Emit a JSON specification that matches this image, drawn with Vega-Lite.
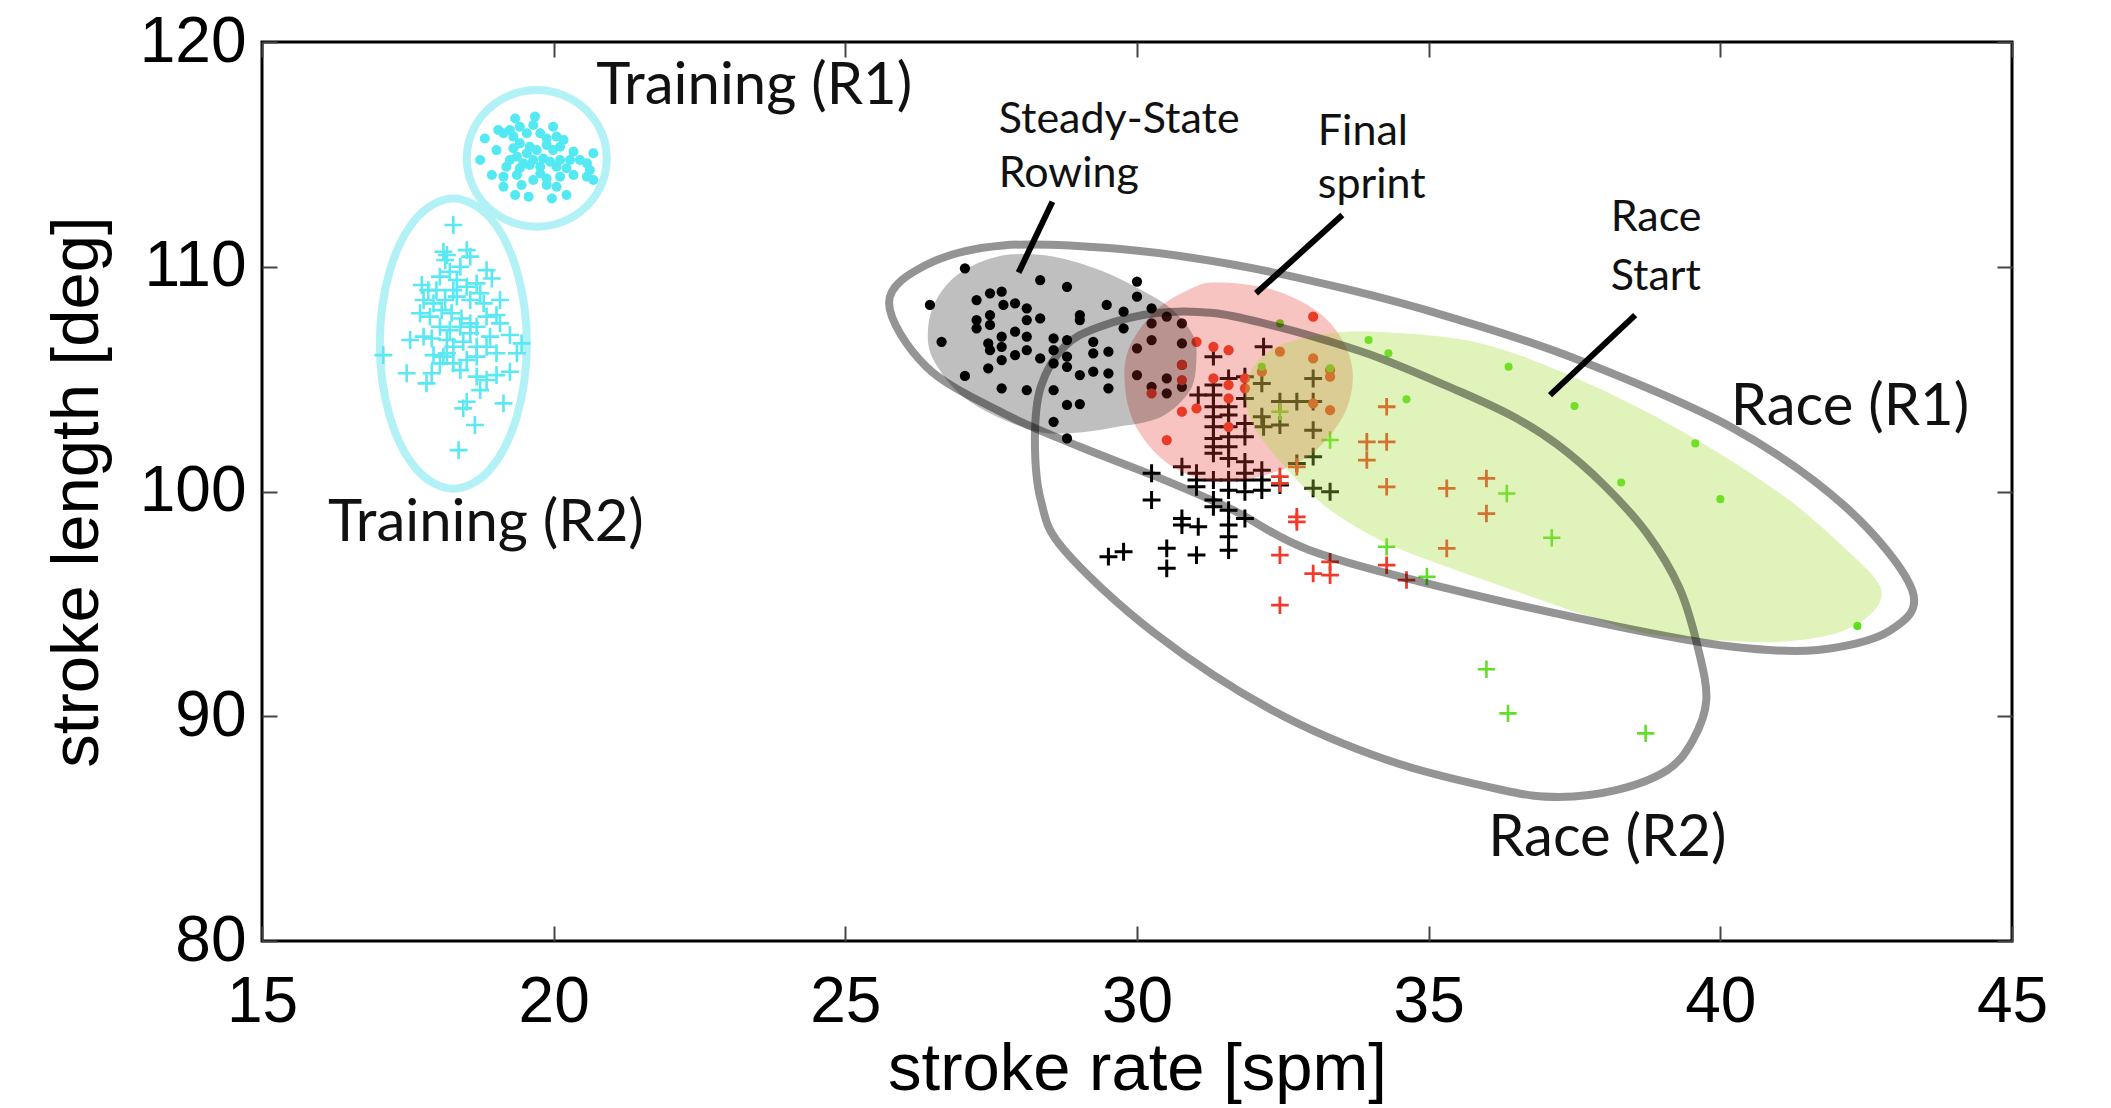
{
"$schema": "https://vega.github.io/schema/vega-lite/v6.json",
"width": 1750, "height": 899,
"autosize": "none",
"padding": {"left": 262, "top": 42, "right": 99, "bottom": 167},
"background": "white",
"config": {
 "view": {"stroke": "#000", "strokeWidth": 3},
 "axis": {"grid": false, "domain": false, "tickSize": -15, "tickWidth": 2, "tickColor": "#444",
  "labelFont": "Liberation Sans", "labelFontSize": 64, "labelColor": "#000",
  "titleFont": "Liberation Sans", "titleFontSize": 67, "titleFontWeight": "normal", "titleColor": "#000",
  "labelOverlap": false, "labelFlush": false, "labelBound": false}
},
"datasets": {
 "cyanDots": [{"x":19.34,"y":116.60},{"x":19.68,"y":116.68},{"x":19.65,"y":116.31},{"x":19.42,"y":116.23},{"x":19.25,"y":116.08},{"x":19.05,"y":116.08},{"x":19.14,"y":115.94},{"x":19.31,"y":115.79},{"x":19.54,"y":115.94},{"x":19.99,"y":116.23},{"x":19.77,"y":115.94},{"x":19.88,"y":115.71},{"x":20.05,"y":115.79},{"x":20.17,"y":115.64},{"x":18.82,"y":115.71},{"x":19.02,"y":115.19},{"x":19.42,"y":115.49},{"x":19.59,"y":115.34},{"x":19.71,"y":115.19},{"x":19.88,"y":115.42},{"x":19.99,"y":115.19},{"x":20.11,"y":115.34},{"x":20.34,"y":115.12},{"x":20.68,"y":115.05},{"x":18.74,"y":114.75},{"x":19.25,"y":114.75},{"x":19.37,"y":114.90},{"x":19.48,"y":114.60},{"x":19.65,"y":114.75},{"x":19.82,"y":114.82},{"x":19.94,"y":114.67},{"x":20.11,"y":114.75},{"x":20.28,"y":114.75},{"x":20.45,"y":114.75},{"x":20.57,"y":114.60},{"x":19.19,"y":114.45},{"x":19.42,"y":114.38},{"x":19.59,"y":114.53},{"x":19.77,"y":114.45},{"x":20.05,"y":114.45},{"x":20.22,"y":114.38},{"x":20.62,"y":114.30},{"x":18.94,"y":114.08},{"x":19.14,"y":114.01},{"x":19.37,"y":114.08},{"x":19.65,"y":113.86},{"x":19.88,"y":113.93},{"x":20.11,"y":114.01},{"x":20.34,"y":114.08},{"x":20.57,"y":114.01},{"x":20.68,"y":113.86},{"x":19.45,"y":113.64},{"x":19.14,"y":113.56},{"x":19.88,"y":113.64},{"x":20.05,"y":113.56},{"x":19.34,"y":113.19},{"x":19.57,"y":113.12},{"x":19.97,"y":113.04},{"x":20.22,"y":113.19},{"x":19.77,"y":114.15},{"x":19.54,"y":115.05},{"x":19.31,"y":115.27}],
 "cyanPlus": [{"x":18.28,"y":111.86},{"x":18.11,"y":110.67},{"x":18.14,"y":110.30},{"x":18.51,"y":110.74},{"x":18.57,"y":110.45},{"x":18.17,"y":110.52},{"x":18.85,"y":109.85},{"x":18.94,"y":109.48},{"x":17.74,"y":109.19},{"x":17.85,"y":108.96},{"x":17.77,"y":108.52},{"x":18.05,"y":109.56},{"x":18.22,"y":109.78},{"x":18.34,"y":109.41},{"x":18.51,"y":109.11},{"x":18.68,"y":109.26},{"x":18.74,"y":108.82},{"x":18.28,"y":108.96},{"x":18.14,"y":108.52},{"x":18.34,"y":108.67},{"x":18.57,"y":108.52},{"x":17.94,"y":108.37},{"x":17.71,"y":107.93},{"x":17.88,"y":107.78},{"x":18.08,"y":108.07},{"x":18.25,"y":107.93},{"x":18.42,"y":107.70},{"x":18.57,"y":107.48},{"x":18.68,"y":107.33},{"x":18.85,"y":107.78},{"x":19.02,"y":107.85},{"x":19.08,"y":107.48},{"x":18.05,"y":107.33},{"x":18.22,"y":107.18},{"x":18.40,"y":107.33},{"x":18.57,"y":107.04},{"x":17.77,"y":106.89},{"x":17.91,"y":106.81},{"x":18.17,"y":106.74},{"x":18.28,"y":106.44},{"x":18.45,"y":106.66},{"x":18.68,"y":106.44},{"x":18.91,"y":106.89},{"x":19.25,"y":106.96},{"x":19.45,"y":106.59},{"x":17.08,"y":106.07},{"x":17.94,"y":106.07},{"x":18.11,"y":106.00},{"x":18.28,"y":105.70},{"x":18.51,"y":105.85},{"x":18.68,"y":106.00},{"x":19.02,"y":106.15},{"x":19.37,"y":106.15},{"x":18.05,"y":105.70},{"x":18.40,"y":105.40},{"x":18.68,"y":105.11},{"x":18.85,"y":104.96},{"x":19.02,"y":105.18},{"x":19.25,"y":105.33},{"x":17.48,"y":105.26},{"x":17.91,"y":105.26},{"x":17.82,"y":104.81},{"x":18.74,"y":104.51},{"x":18.51,"y":103.99},{"x":18.45,"y":103.70},{"x":19.14,"y":103.92},{"x":18.65,"y":102.96},{"x":18.37,"y":101.84},{"x":17.54,"y":106.74},{"x":18.80,"y":108.37},{"x":19.08,"y":108.52},{"x":18.40,"y":110.00},{"x":17.99,"y":108.96},{"x":18.85,"y":106.44},{"x":18.17,"y":106.15}],
 "blackDots": [{"x":27.05,"y":109.93},{"x":28.34,"y":109.41},{"x":28.80,"y":109.11},{"x":30.00,"y":109.34},{"x":30.00,"y":108.67},{"x":26.45,"y":108.30},{"x":27.25,"y":108.52},{"x":27.48,"y":108.82},{"x":27.68,"y":108.89},{"x":27.71,"y":108.30},{"x":27.91,"y":108.37},{"x":28.11,"y":108.15},{"x":28.11,"y":107.63},{"x":28.34,"y":107.70},{"x":29.02,"y":107.85},{"x":29.02,"y":107.63},{"x":29.48,"y":108.30},{"x":29.77,"y":108.00},{"x":29.77,"y":107.26},{"x":30.25,"y":108.15},{"x":30.51,"y":107.78},{"x":30.77,"y":107.48},{"x":27.25,"y":107.63},{"x":27.25,"y":107.26},{"x":27.48,"y":107.85},{"x":27.48,"y":107.41},{"x":26.65,"y":106.66},{"x":27.45,"y":106.59},{"x":27.48,"y":106.29},{"x":27.68,"y":106.89},{"x":27.68,"y":106.44},{"x":27.68,"y":105.85},{"x":27.91,"y":107.11},{"x":27.91,"y":106.07},{"x":28.11,"y":106.89},{"x":28.11,"y":106.29},{"x":28.34,"y":105.92},{"x":28.57,"y":106.81},{"x":28.57,"y":106.29},{"x":28.57,"y":105.70},{"x":28.80,"y":106.74},{"x":28.80,"y":106.00},{"x":28.80,"y":105.55},{"x":29.02,"y":105.18},{"x":29.25,"y":106.66},{"x":29.25,"y":106.15},{"x":29.25,"y":105.33},{"x":29.51,"y":106.22},{"x":29.51,"y":105.26},{"x":29.51,"y":104.59},{"x":27.05,"y":105.14},{"x":27.45,"y":105.48},{"x":27.68,"y":104.59},{"x":28.11,"y":104.51},{"x":28.57,"y":104.51},{"x":28.80,"y":103.85},{"x":29.02,"y":103.89},{"x":28.57,"y":103.10},{"x":28.80,"y":102.36},{"x":30.00,"y":106.37},{"x":30.25,"y":106.74},{"x":30.25,"y":107.48},{"x":30.51,"y":105.03},{"x":30.51,"y":104.37},{"x":30.25,"y":104.66},{"x":30.77,"y":106.59},{"x":30.77,"y":105.63},{"x":30.77,"y":104.66},{"x":30.00,"y":105.18}],
 "redDots": [{"x":33.02,"y":107.78},{"x":31.02,"y":106.66},{"x":31.31,"y":106.44},{"x":31.57,"y":106.29},{"x":30.77,"y":105.63},{"x":30.77,"y":104.96},{"x":30.25,"y":104.37},{"x":31.31,"y":105.03},{"x":31.57,"y":104.74},{"x":31.57,"y":104.14},{"x":31.85,"y":105.03},{"x":31.85,"y":104.59},{"x":32.45,"y":106.22},{"x":33.02,"y":105.92},{"x":33.31,"y":105.40},{"x":33.31,"y":105.11},{"x":32.14,"y":105.33},{"x":30.77,"y":103.55},{"x":31.02,"y":103.70},{"x":31.57,"y":102.88},{"x":30.51,"y":102.29},{"x":33.02,"y":103.92},{"x":33.31,"y":103.62}],
 "greenDots": [{"x":32.45,"y":107.48},{"x":32.14,"y":105.55},{"x":33.31,"y":105.48},{"x":33.97,"y":106.74},{"x":34.31,"y":106.15},{"x":36.37,"y":105.55},{"x":34.62,"y":104.10},{"x":37.50,"y":103.80},{"x":39.57,"y":102.14},{"x":38.30,"y":100.40},{"x":40.00,"y":99.66},{"x":42.35,"y":94.02}],
 "blackPlus": [{"x":32.17,"y":106.44},{"x":31.31,"y":106.00},{"x":31.57,"y":105.03},{"x":31.31,"y":104.74},{"x":31.05,"y":104.29},{"x":31.31,"y":104.29},{"x":31.31,"y":103.77},{"x":31.57,"y":103.77},{"x":31.31,"y":103.33},{"x":31.57,"y":103.40},{"x":31.31,"y":102.88},{"x":31.57,"y":102.88},{"x":31.31,"y":102.36},{"x":31.57,"y":102.44},{"x":31.31,"y":101.99},{"x":31.57,"y":101.99},{"x":31.31,"y":101.70},{"x":31.57,"y":101.47},{"x":31.85,"y":105.11},{"x":31.85,"y":104.14},{"x":31.85,"y":103.03},{"x":31.85,"y":102.44},{"x":31.85,"y":101.32},{"x":31.85,"y":100.81},{"x":32.14,"y":104.81},{"x":32.14,"y":103.33},{"x":32.45,"y":104.00},{"x":32.74,"y":104.00},{"x":33.02,"y":104.00},{"x":33.02,"y":105.03},{"x":33.02,"y":102.73},{"x":33.02,"y":101.55},{"x":32.45,"y":102.96},{"x":32.17,"y":102.88},{"x":30.77,"y":101.10},{"x":31.02,"y":100.81},{"x":31.02,"y":100.51},{"x":31.02,"y":100.21},{"x":31.31,"y":100.51},{"x":31.31,"y":99.62},{"x":31.31,"y":99.32},{"x":31.57,"y":100.51},{"x":31.57,"y":100.06},{"x":31.57,"y":99.17},{"x":31.57,"y":98.51},{"x":31.57,"y":97.99},{"x":31.57,"y":97.39},{"x":31.85,"y":100.51},{"x":31.85,"y":99.99},{"x":31.85,"y":98.80},{"x":32.14,"y":100.51},{"x":32.14,"y":100.06},{"x":32.45,"y":100.29},{"x":30.25,"y":100.81},{"x":30.25,"y":99.62},{"x":30.77,"y":98.80},{"x":30.77,"y":98.51},{"x":31.05,"y":98.43},{"x":30.51,"y":97.47},{"x":30.51,"y":96.58},{"x":31.02,"y":97.17},{"x":29.77,"y":97.32},{"x":29.51,"y":97.10},{"x":33.02,"y":100.14},{"x":33.31,"y":99.99},{"x":32.14,"y":100.95},{"x":32.74,"y":101.25}],
 "redPlus": [{"x":32.45,"y":100.66},{"x":32.45,"y":100.36},{"x":32.74,"y":98.87},{"x":32.74,"y":98.65},{"x":32.45,"y":97.17},{"x":33.02,"y":96.35},{"x":33.31,"y":96.87},{"x":33.31,"y":96.28},{"x":32.45,"y":94.94},{"x":34.28,"y":103.77},{"x":33.94,"y":102.21},{"x":34.28,"y":102.21},{"x":33.94,"y":101.40},{"x":34.28,"y":100.21},{"x":34.28,"y":96.72},{"x":32.74,"y":101.10},{"x":35.31,"y":100.14},{"x":35.99,"y":100.58},{"x":35.99,"y":99.02},{"x":35.31,"y":97.47},{"x":34.62,"y":96.06}],
 "greenPlus": [{"x":33.31,"y":102.29},{"x":32.45,"y":103.55},{"x":34.28,"y":97.54},{"x":36.34,"y":99.91},{"x":37.11,"y":97.94},{"x":34.97,"y":96.21},{"x":35.99,"y":92.09},{"x":36.36,"y":90.13},{"x":38.72,"y":89.24}],
 "cyanRings": [
  {"e":"T1","i":0,"x":19.71,"y":117.86},{"e":"T1","i":1,"x":20.31,"y":117.45},{"e":"T1","i":2,"x":20.75,"y":116.34},{"e":"T1","i":3,"x":20.91,"y":114.82},{"e":"T1","i":4,"x":20.75,"y":113.30},{"e":"T1","i":5,"x":20.31,"y":112.19},{"e":"T1","i":6,"x":19.71,"y":111.78},{"e":"T1","i":7,"x":19.11,"y":112.19},{"e":"T1","i":8,"x":18.67,"y":113.30},{"e":"T1","i":9,"x":18.51,"y":114.82},{"e":"T1","i":10,"x":18.67,"y":116.34},{"e":"T1","i":11,"x":19.11,"y":117.45},
  {"e":"T2","i":0,"x":18.28,"y":113.04},{"e":"T2","i":1,"x":18.91,"y":112.17},{"e":"T2","i":2,"x":19.37,"y":109.81},{"e":"T2","i":3,"x":19.54,"y":106.58},{"e":"T2","i":4,"x":19.37,"y":103.35},{"e":"T2","i":5,"x":18.91,"y":100.99},{"e":"T2","i":6,"x":18.28,"y":100.12},{"e":"T2","i":7,"x":17.65,"y":100.99},{"e":"T2","i":8,"x":17.19,"y":103.35},{"e":"T2","i":9,"x":17.02,"y":106.58},{"e":"T2","i":10,"x":17.19,"y":109.81},{"e":"T2","i":11,"x":17.65,"y":112.17}],
 "raceRings": [
  {"e":"R1","i":0,"x":25.75,"y":108.4},{"e":"R1","i":1,"x":26.4,"y":110.1},{"e":"R1","i":2,"x":27.7,"y":110.95},{"e":"R1","i":3,"x":29.67,"y":110.8},{"e":"R1","i":4,"x":31.64,"y":110.1},{"e":"R1","i":5,"x":33.6,"y":109.0},{"e":"R1","i":6,"x":35.36,"y":107.76},{"e":"R1","i":7,"x":37.44,"y":105.98},{"e":"R1","i":8,"x":40.18,"y":102.87},{"e":"R1","i":9,"x":42.15,"y":99.31},{"e":"R1","i":10,"x":43.29,"y":95.6},{"e":"R1","i":11,"x":42.9,"y":93.8},{"e":"R1","i":12,"x":41.67,"y":92.95},{"e":"R1","i":13,"x":40.18,"y":93.1},{"e":"R1","i":14,"x":38.23,"y":94.0},{"e":"R1","i":15,"x":35.3,"y":95.7},{"e":"R1","i":16,"x":32.95,"y":97.4},{"e":"R1","i":17,"x":31.64,"y":99.18},{"e":"R1","i":18,"x":30.33,"y":100.66},{"e":"R1","i":19,"x":29.02,"y":101.99},{"e":"R1","i":20,"x":27.70,"y":103.49},{"e":"R1","i":21,"x":26.39,"y":105.55},
  {"e":"R2","i":0,"x":28.25,"y":102.3},{"e":"R2","i":1,"x":28.35,"y":104.65},{"e":"R2","i":2,"x":28.75,"y":106.43},{"e":"R2","i":3,"x":29.35,"y":107.32},{"e":"R2","i":4,"x":30.33,"y":107.94},{"e":"R2","i":5,"x":31.31,"y":107.94},{"e":"R2","i":6,"x":32.30,"y":107.4},{"e":"R2","i":7,"x":33.27,"y":106.7},{"e":"R2","i":8,"x":34.2,"y":105.9},{"e":"R2","i":9,"x":35.4,"y":104.6},{"e":"R2","i":10,"x":36.4,"y":103.4},{"e":"R2","i":11,"x":37.2,"y":102.1},{"e":"R2","i":12,"x":38.0,"y":100.3},{"e":"R2","i":13,"x":38.74,"y":98.15},{"e":"R2","i":14,"x":39.3,"y":95.7},{"e":"R2","i":15,"x":39.62,"y":93.0},{"e":"R2","i":16,"x":39.76,"y":90.72},{"e":"R2","i":17,"x":39.53,"y":88.94},{"e":"R2","i":18,"x":39.09,"y":87.6},{"e":"R2","i":19,"x":38.23,"y":86.72},{"e":"R2","i":20,"x":37.23,"y":86.41},{"e":"R2","i":21,"x":36.26,"y":86.72},{"e":"R2","i":22,"x":34.29,"y":88.05},{"e":"R2","i":23,"x":32.31,"y":90.28},{"e":"R2","i":24,"x":30.3,"y":93.7},{"e":"R2","i":25,"x":28.75,"y":97.40},{"e":"R2","i":26,"x":28.35,"y":99.62}],
 "grayZone": [{"i":0,"x":26.42,"y":106.6},{"i":1,"x":26.5,"y":108.2},{"i":2,"x":26.9,"y":109.6},{"i":3,"x":27.6,"y":110.45},{"i":4,"x":28.45,"y":110.5},{"i":5,"x":29.31,"y":109.9},{"i":6,"x":30.05,"y":109.0},{"i":7,"x":30.6,"y":108.1},{"i":8,"x":30.95,"y":107.0},{"i":9,"x":31.02,"y":106.0},{"i":10,"x":30.91,"y":104.5},{"i":11,"x":30.4,"y":103.3},{"i":12,"x":29.6,"y":102.85},{"i":13,"x":28.9,"y":102.6},{"i":14,"x":28.3,"y":102.66},{"i":15,"x":27.6,"y":103.33},{"i":16,"x":27.02,"y":104.22},{"i":17,"x":26.62,"y":105.4}],
 "pinkZone": [{"i":0,"x":31.37,"y":109.3},{"i":1,"x":32.3,"y":109.0},{"i":2,"x":33.1,"y":108.0},{"i":3,"x":33.55,"y":106.6},{"i":4,"x":33.7,"y":105.0},{"i":5,"x":33.5,"y":103.2},{"i":6,"x":32.9,"y":101.5},{"i":7,"x":32.0,"y":100.6},{"i":8,"x":31.2,"y":100.5},{"i":9,"x":30.5,"y":101.3},{"i":10,"x":30.0,"y":102.8},{"i":11,"x":29.8,"y":104.5},{"i":12,"x":29.85,"y":106.3},{"i":13,"x":30.3,"y":108.0},{"i":14,"x":30.9,"y":109.0}],
 "greenZone": [{"i":0,"x":31.88,"y":104.9},{"i":1,"x":32.3,"y":106.3},{"i":2,"x":33.2,"y":107.0},{"i":3,"x":34.17,"y":107.1},{"i":4,"x":35.88,"y":106.6},{"i":5,"x":37.60,"y":104.96},{"i":6,"x":39.31,"y":102.73},{"i":7,"x":41.03,"y":99.91},{"i":8,"x":42.17,"y":97.39},{"i":9,"x":42.74,"y":95.76},{"i":10,"x":42.6,"y":94.6},{"i":11,"x":42.0,"y":93.7},{"i":12,"x":41.03,"y":93.31},{"i":13,"x":39.88,"y":93.39},{"i":14,"x":38.74,"y":93.68},{"i":15,"x":37.60,"y":94.57},{"i":16,"x":36.45,"y":95.61},{"i":17,"x":35.31,"y":96.65},{"i":18,"x":34.2,"y":97.8},{"i":19,"x":33.2,"y":99.4},{"i":20,"x":32.4,"y":101.5},{"i":21,"x":31.95,"y":103.2}],
 "pointers": [{"x":28.55,"y":112.89,"x2":27.97,"y2":109.74},{"x":33.52,"y":112.30,"x2":32.04,"y2":108.82},{"x":38.54,"y":107.85,"x2":37.08,"y2":104.29}],
 "bigLabels": [{"x":20.73,"y":117.25,"t":"Training (R1)"},{"x":16.13,"y":97.8,"t":"Training (R2)"},{"x":40.18,"y":102.95,"t":"Race (R1)"},{"x":36.02,"y":83.78,"t":"Race (R2)"}],
 "smallLabels": [{"x":27.63,"y":115.95,"t":"Steady-State"},{"x":27.63,"y":113.55,"t":"Rowing"},{"x":33.10,"y":115.42,"t":"Final"},{"x":33.10,"y":113.06,"t":"sprint"},{"x":38.12,"y":111.6,"t":"Race"},{"x":38.12,"y":108.98,"t":"Start"}]
},
"resolve": {"axis": {"x": "independent", "y": "independent"}},
"layer": [
 {"data": {"name": "cyanRings"},
  "mark": {"type": "line", "interpolate": "cardinal-closed", "stroke": "#b2f1f5", "strokeWidth": 8},
  "encoding": {
   "x": {"field": "x", "type": "quantitative", "scale": {"domain": [15, 45], "nice": false, "zero": false},
     "axis": {"orient": "top", "values": [15,20,25,30,35,40,45], "labels": false, "title": null}},
   "y": {"field": "y", "type": "quantitative", "scale": {"domain": [80, 120], "nice": false, "zero": false},
     "axis": {"orient": "right", "values": [80,90,100,110,120], "labels": false, "title": null}},
   "detail": {"field": "e"}, "order": {"field": "i"}}},
 {"data": {"name": "cyanDots"},
  "mark": {"type": "circle", "color": "#52e9f3", "size": 100, "opacity": 1},
  "encoding": {
   "x": {"field": "x", "type": "quantitative", "axis": {"orient": "bottom", "values": [15,20,25,30,35,40,45], "title": "stroke rate [spm]", "labelPadding": 44, "titlePadding": 2}},
   "y": {"field": "y", "type": "quantitative", "axis": {"orient": "left", "values": [80,90,100,110,120], "title": "stroke length [deg]", "labelPadding": 31, "titlePadding": 28}}}},
 {"data": {"name": "cyanPlus"},
  "mark": {"type": "point", "shape": "M-1,0H1M0,-1V1", "filled": false, "stroke": "#5ae8f2", "strokeWidth": 2.6, "size": 320, "opacity": 1},
  "encoding": {"x": {"field": "x", "type": "quantitative", "axis": null}, "y": {"field": "y", "type": "quantitative", "axis": null}}},
 {"data": {"name": "blackPlus"},
  "mark": {"type": "point", "shape": "M-1,0H1M0,-1V1", "filled": false, "stroke": "#000", "strokeWidth": 3, "size": 320, "opacity": 1},
  "encoding": {"x": {"field": "x", "type": "quantitative", "axis": null}, "y": {"field": "y", "type": "quantitative", "axis": null}}},
 {"data": {"name": "redPlus"},
  "mark": {"type": "point", "shape": "M-1,0H1M0,-1V1", "filled": false, "stroke": "#f03a2a", "strokeWidth": 2.8, "size": 310, "opacity": 1},
  "encoding": {"x": {"field": "x", "type": "quantitative", "axis": null}, "y": {"field": "y", "type": "quantitative", "axis": null}}},
 {"data": {"name": "greenPlus"},
  "mark": {"type": "point", "shape": "M-1,0H1M0,-1V1", "filled": false, "stroke": "#5fe025", "strokeWidth": 2.6, "size": 300, "opacity": 1},
  "encoding": {"x": {"field": "x", "type": "quantitative", "axis": null}, "y": {"field": "y", "type": "quantitative", "axis": null}}},
 {"data": {"name": "blackDots"},
  "mark": {"type": "circle", "color": "#000", "size": 105, "opacity": 1},
  "encoding": {"x": {"field": "x", "type": "quantitative", "axis": null}, "y": {"field": "y", "type": "quantitative", "axis": null}}},
 {"data": {"name": "redDots"},
  "mark": {"type": "circle", "color": "#ec3a24", "size": 105, "opacity": 1},
  "encoding": {"x": {"field": "x", "type": "quantitative", "axis": null}, "y": {"field": "y", "type": "quantitative", "axis": null}}},
 {"data": {"name": "greenDots"},
  "mark": {"type": "circle", "color": "#55e01a", "size": 65, "opacity": 1},
  "encoding": {"x": {"field": "x", "type": "quantitative", "axis": null}, "y": {"field": "y", "type": "quantitative", "axis": null}}},
 {"data": {"name": "pinkZone"},
  "mark": {"type": "line", "interpolate": "cardinal-closed", "fill": "#e33c32", "fillOpacity": 0.3, "strokeOpacity": 0},
  "encoding": {"x": {"field": "x", "type": "quantitative", "axis": null}, "y": {"field": "y", "type": "quantitative", "axis": null}, "order": {"field": "i"}}},
 {"data": {"name": "greenZone"},
  "mark": {"type": "line", "interpolate": "cardinal-closed", "fill": "#a2dc3c", "fillOpacity": 0.35, "strokeOpacity": 0},
  "encoding": {"x": {"field": "x", "type": "quantitative", "axis": null}, "y": {"field": "y", "type": "quantitative", "axis": null}, "order": {"field": "i"}}},
 {"data": {"name": "grayZone"},
  "mark": {"type": "line", "interpolate": "cardinal-closed", "fill": "#000", "fillOpacity": 0.25, "strokeOpacity": 0},
  "encoding": {"x": {"field": "x", "type": "quantitative", "axis": null}, "y": {"field": "y", "type": "quantitative", "axis": null}, "order": {"field": "i"}}},
 {"data": {"name": "raceRings"},
  "mark": {"type": "line", "interpolate": "cardinal-closed", "stroke": "#000", "strokeOpacity": 0.42, "strokeWidth": 8},
  "encoding": {"x": {"field": "x", "type": "quantitative", "axis": null}, "y": {"field": "y", "type": "quantitative", "axis": null}, "detail": {"field": "e"}, "order": {"field": "i"}}},
 {"data": {"name": "pointers"},
  "mark": {"type": "rule", "color": "#000", "strokeWidth": 6},
  "encoding": {"x": {"field": "x", "type": "quantitative", "axis": null}, "y": {"field": "y", "type": "quantitative", "axis": null}, "x2": {"field": "x2"}, "y2": {"field": "y2"}}},
 {"data": {"name": "bigLabels"},
  "mark": {"type": "text", "font": "Lato", "fontSize": 58, "align": "left", "baseline": "alphabetic", "color": "#111"},
  "encoding": {"x": {"field": "x", "type": "quantitative", "axis": null}, "y": {"field": "y", "type": "quantitative", "axis": null}, "text": {"field": "t"}}},
 {"data": {"name": "smallLabels"},
  "mark": {"type": "text", "font": "Lato", "fontSize": 43, "align": "left", "baseline": "alphabetic", "color": "#111"},
  "encoding": {"x": {"field": "x", "type": "quantitative", "axis": null}, "y": {"field": "y", "type": "quantitative", "axis": null}, "text": {"field": "t"}}}
]
}
